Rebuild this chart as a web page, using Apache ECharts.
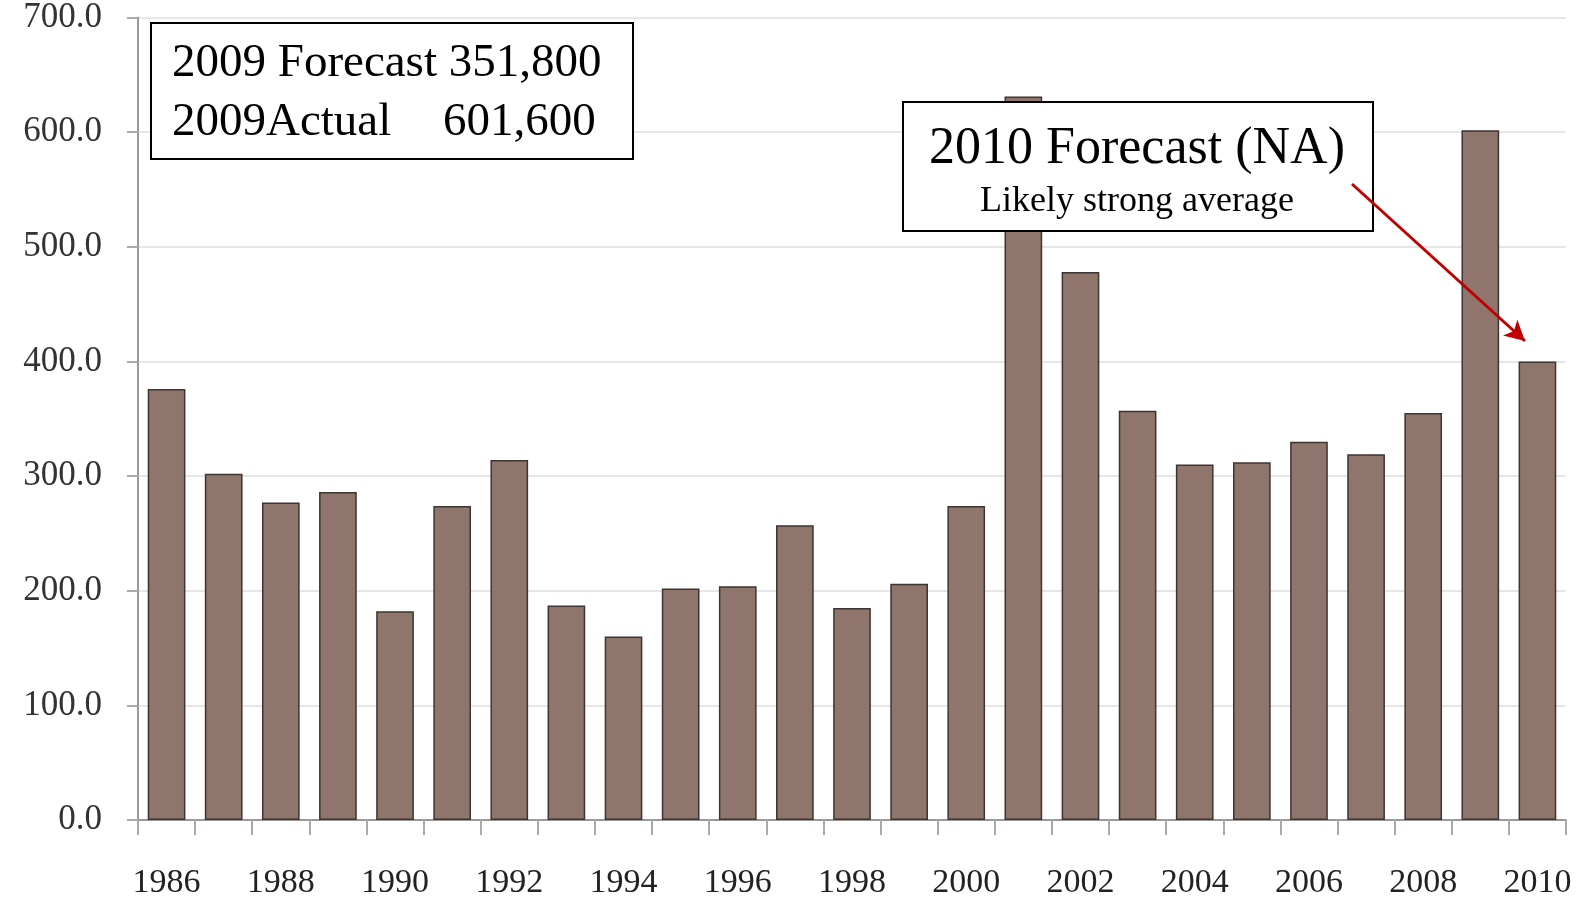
<!DOCTYPE html>
<html>
<head>
<meta charset="utf-8">
<script src="https://cdn.jsdelivr.net/npm/echarts@6/dist/echarts.min.js"></script>
<style>
  html, body { margin: 0; padding: 0; background: #fff; }
  #chart { width: 1584px; height: 900px; }
</style>
</head>
<body>
<div id="chart"></div>
<script>
// data (thousands)
const years = ['1986', '1987', '1988', '1989', '1990', '1991', '1992', '1993', '1994', '1995',
  '1996', '1997', '1998', '1999', '2000', '2001', '2002', '2003', '2004', '2005',
  '2006', '2007', '2008', '2009', '2010']
const values = [376, 302, 277, 286, 182, 274, 314, 187, 160, 202,
  204, 257, 185, 206, 274, 631, 478, 357, 310, 312,
  330, 319, 355, 601.6, 400]
const yTicks = { min: 0, max: 700, interval: 100 }

const serif = '"Liberation Serif", "DejaVu Serif", serif'
const chart = echarts.init(document.getElementById('chart'))

chart.setOption({
  animation: false,
  grid: { left: 138, right: 18, top: 14, bottom: 80 },
  xAxis: {
    type: 'category',
    data: years,
    axisLine: { lineStyle: { color: '#999', width: 2 } },
    axisTick: { show: true, interval: 0, length: 15, lineStyle: { color: '#aaa', width: 2 } },
    axisLabel: { interval: 1, margin: 46, fontSize: 34, color: '#222', fontFamily: serif },
  },
  yAxis: {
    type: 'value',
    min: yTicks.min,
    max: yTicks.max,
    interval: yTicks.interval,
    axisLine: { show: true, lineStyle: { color: '#999', width: 2 } },
    axisTick: { show: true, length: 11, lineStyle: { color: '#aaa', width: 2 } },
    axisLabel: { margin: 36, fontSize: 35, color: '#333', fontFamily: serif, formatter: v => v.toFixed(1) },
    splitLine: { lineStyle: { color: '#e6e6e6', width: 2 } },
  },
  series: [
    {
      type: 'bar',
      data: values,
      barWidth: '66%',
      itemStyle: { color: '#8f756b', borderColor: '#3e3431', borderWidth: 1.5 },
      markLine: {
        // arrow from the 2010 note to the 2010 bar, above the note box
        z: 20,
        silent: true,
        symbol: ['none', 'arrow'],
        symbolSize: [16, 20],
        label: { show: false },
        lineStyle: { color: '#c00000', width: 3, type: 'solid' },
        data: [[{ x: 1352, y: 184 }, { x: 1525, y: 341 }]],
      },
    },
  ],
  graphic: [
    {
      type: 'rect', left: 150, top: 22, z: 10,
      shape: { width: 482, height: 136 },
      style: { fill: '#fff', stroke: '#000', lineWidth: 2 },
    },
    {
      type: 'text', left: 172, top: 40, z: 11,
      style: { text: '2009 Forecast 351,800', font: '47px ' + serif, fill: '#000' },
    },
    {
      type: 'text', left: 172, top: 99, z: 11,
      style: { text: '2009Actual', font: '47px ' + serif, fill: '#000' },
    },
    {
      type: 'text', left: 443, top: 99, z: 11,
      style: { text: '601,600', font: '47px ' + serif, fill: '#000' },
    },
    {
      type: 'rect', left: 902, top: 101, z: 10,
      shape: { width: 470, height: 129 },
      style: { fill: '#fff', stroke: '#000', lineWidth: 2 },
    },
    {
      type: 'text', x: 1137, y: 149, z: 11,
      style: { text: '2010 Forecast (NA)', font: '52px ' + serif, fill: '#000', align: 'center', verticalAlign: 'middle' },
    },
    {
      type: 'text', x: 1137, y: 202, z: 11,
      style: { text: 'Likely strong average', font: '36px ' + serif, fill: '#000', align: 'center', verticalAlign: 'middle' },
    },
  ],
})
</script>
</body>
</html>
